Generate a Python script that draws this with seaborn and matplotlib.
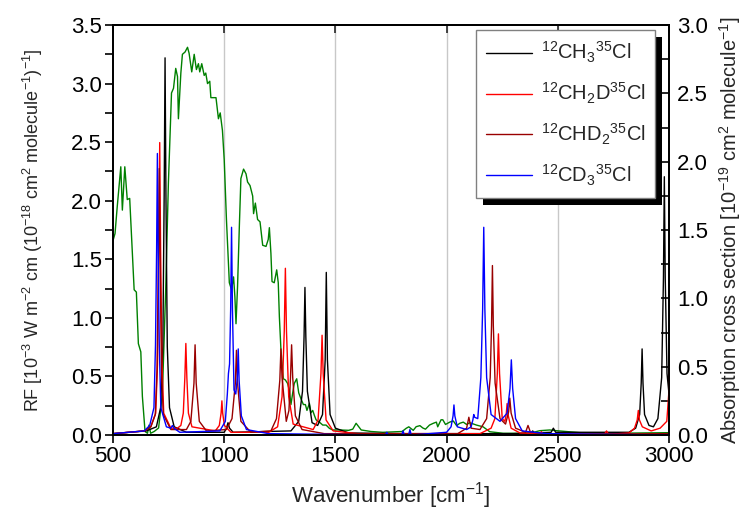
import numpy as np
import pandas as pd
import matplotlib
matplotlib.use("Agg")
import matplotlib.pyplot as plt
import seaborn as sns
from matplotlib.lines import Line2D
from matplotlib.patches import Rectangle
from matplotlib.ticker import MultipleLocator, FormatStrFormatter

# ---------------- data ----------------
# radiative forcing efficiency curve (left axis)
rf_wn = [500, 509, 519, 535, 542, 553, 564, 575, 587, 595, 605, 614, 625, 632, 644, 655,
         662, 669, 685, 705, 722, 737, 749, 763, 772, 782, 790, 794, 805, 812, 824,
         835, 842, 854, 865, 875, 884, 890, 899, 910, 917, 925, 935, 940, 950, 963, 974,
         982, 992, 1000, 1010, 1023, 1033, 1042, 1048, 1053, 1060, 1068, 1075, 1087, 1098,
         1105, 1116, 1128, 1132, 1140, 1150, 1161, 1173, 1188, 1198, 1203, 1210, 1215, 1225,
         1236, 1243, 1248, 1255, 1266, 1275, 1285, 1293, 1300, 1308, 1315, 1326, 1335, 1345,
         1356, 1365, 1372, 1383, 1390, 1398, 1405, 1413, 1428, 1443, 1458, 1473, 1488, 1518,
         1560, 1578, 1593, 1616, 1660, 1713, 1773, 1800, 1818, 1830, 1850, 1863, 1880, 1893,
         1905, 1923, 1940, 1954, 1960, 1975, 1983, 1995, 2014, 2030, 2045, 2059, 2075, 2090,
         2104, 2134, 2164, 2194, 2254, 2374, 2419, 2464, 2494, 2599, 2749, 3000]
rf_val = [1.66, 1.72, 1.95, 2.29, 1.92, 2.29, 2.01, 2.02, 1.55, 1.24, 1.22, 0.78, 0.71, 0.33, 0.03, 0.015,
          0.085, 0.015, 0.03, 0.06, 0.35, 1.25, 2.15, 2.92, 2.96, 3.13, 3.06, 2.70, 3.09, 3.25, 3.27,
          3.31, 3.26, 3.10, 3.25, 3.12, 3.17, 3.10, 3.17, 3.07, 3.09, 3.00, 3.02, 2.88, 2.88, 2.88, 2.70,
          2.75, 2.60, 2.35, 1.84, 1.30, 1.24, 1.35, 1.18, 0.95, 1.27, 1.78, 2.19, 2.27, 2.23,
          2.16, 2.13, 2.04, 1.89, 1.98, 1.84, 1.82, 1.62, 1.61, 1.67, 1.77, 1.55, 1.31, 1.30,
          1.41, 1.30, 1.01, 0.73, 0.48, 0.47, 0.44, 0.38, 0.26, 0.36, 0.44, 0.48, 0.36, 0.31,
          0.26, 0.26, 0.21, 0.27, 0.19, 0.21, 0.17, 0.13, 0.11, 0.085, 0.085, 0.057, 0.043, 0.043,
          0.04, 0.05, 0.10, 0.043, 0.03, 0.023, 0.028, 0.03, 0.057, 0.07, 0.04, 0.071, 0.08, 0.06,
          0.05, 0.085, 0.10, 0.11, 0.07, 0.13, 0.13, 0.09, 0.11, 0.12, 0.08, 0.10, 0.11, 0.09,
          0.105, 0.085, 0.07, 0.028, 0.015, 0.015, 0.037, 0.043, 0.037, 0.02, 0.015, 0.02]

# absorption cross sections (right axis)
ch3_wn = [500, 650, 695, 714, 724, 730, 734, 738, 744, 754, 775, 830, 1000, 1010, 1017, 1024, 1040,
          1300, 1335, 1352, 1359, 1363, 1367, 1374, 1395, 1420, 1442, 1454, 1459, 1464, 1476, 1500,
          1560, 1800, 2300, 2380, 2387, 2394, 2470, 2480, 2490, 2820, 2850, 2868, 2875, 2879, 2883,
          2890, 2910, 2930, 2950, 2967, 2975, 2979, 2983, 2991, 3000, 3020]
ch3_val = [0.01, 0.03, 0.06, 0.20, 0.65, 1.75, 2.76, 1.75, 0.65, 0.20, 0.06, 0.02, 0.02, 0.05, 0.09, 0.05, 0.02,
           0.03, 0.10, 0.32, 0.72, 1.08, 0.72, 0.32, 0.09, 0.07, 0.15, 0.55, 1.19, 0.55, 0.15, 0.05,
           0.015, 0.01, 0.01, 0.015, 0.03, 0.015, 0.02, 0.05, 0.02, 0.02, 0.05, 0.15, 0.38, 0.63, 0.38,
           0.15, 0.07, 0.06, 0.12, 0.42, 1.15, 1.89, 1.15, 0.45, 0.30, 1.00]

ch2d_wn = [500, 640, 670, 692, 700, 706, 710, 714, 720, 728, 760, 790, 805, 816, 823, 827.5, 832, 839,
           855, 960, 978, 986, 989.6, 993, 1001, 1030, 1200, 1240, 1260, 1270, 1275, 1280, 1290, 1310,
           1400, 1422, 1435, 1440, 1445, 1458, 1490, 1600, 2150, 2200, 2217, 2228, 2233, 2238, 2250,
           2262, 2268, 2272, 2276, 2290, 2330, 2421, 2426, 2431, 2710, 2719, 2728, 2820, 2845, 2857,
           2862, 2867, 2880, 2920, 2960, 2990, 3000, 3008]
ch2d_val = [0.01, 0.03, 0.06, 0.16, 0.52, 1.35, 2.14, 1.35, 0.52, 0.16, 0.05, 0.05, 0.07, 0.16, 0.42, 0.67, 0.42, 0.16,
            0.06, 0.03, 0.07, 0.16, 0.25, 0.16, 0.07, 0.02, 0.02, 0.06, 0.28, 0.76, 1.22, 0.76, 0.28, 0.08,
            0.04, 0.11, 0.45, 0.73, 0.45, 0.11, 0.03, 0.01, 0.01, 0.05, 0.12, 0.45, 0.74, 0.45, 0.12,
            0.10, 0.15, 0.23, 0.15, 0.05, 0.015, 0.01, 0.025, 0.01, 0.005, 0.03, 0.005, 0.015, 0.05, 0.11,
            0.18, 0.11, 0.06, 0.03, 0.05, 0.10, 0.33, 0.90]

chd2_wn = [500, 640, 670, 690, 698, 704, 708, 712, 718, 726, 760, 830, 850, 864, 869, 874, 888, 920,
           1010, 1035, 1050, 1055, 1060, 1075, 1120, 1210, 1235, 1250, 1255, 1260, 1279, 1291, 1298,
           1303, 1308, 1320, 1350, 1450, 2050, 2090, 2100, 2110, 2150, 2180, 2196, 2202, 2206, 2210,
           2218, 2240, 2265, 2279, 2284, 2290, 2310, 2355, 2366, 2377, 2450, 3000]
chd2_val = [0.01, 0.03, 0.06, 0.15, 0.48, 1.25, 1.95, 1.25, 0.48, 0.15, 0.04, 0.04, 0.10, 0.38, 0.66, 0.38, 0.10, 0.03,
            0.04, 0.12, 0.38, 0.62, 0.38, 0.10, 0.02, 0.03, 0.12, 0.40, 0.63, 0.42, 0.10, 0.18, 0.42,
            0.66, 0.42, 0.14, 0.04, 0.01, 0.01, 0.05, 0.13, 0.05, 0.04, 0.12, 0.42, 0.80, 1.24, 0.80,
            0.38, 0.12, 0.08, 0.17, 0.27, 0.16, 0.05, 0.02, 0.07, 0.02, 0.005, 0.01]

cd3_wn = [500, 640, 665, 684, 691, 696, 699.5, 703, 708, 715, 740, 760, 767, 774, 800, 980, 1005, 1014,
          1019, 1024, 1029, 1033, 1037, 1044, 1052, 1059, 1063, 1067, 1077, 1100, 1200, 1725, 1731,
          1737, 1798, 1804, 1810, 1829, 1835, 1841, 2000, 2020, 2029, 2033, 2037, 2048, 2090, 2110,
          2118, 2122, 2126, 2140, 2154, 2162, 2167, 2172, 2180, 2200, 2240, 2272, 2285, 2291, 2297,
          2310, 2340, 2450, 3000]
cd3_val = [0.01, 0.03, 0.07, 0.20, 0.66, 1.35, 2.06, 1.35, 0.66, 0.20, 0.06, 0.05, 0.07, 0.05, 0.02, 0.03, 0.10, 0.30,
           0.45, 0.52, 0.92, 1.52, 0.92, 0.33, 0.30, 0.42, 0.63, 0.40, 0.14, 0.04, 0.01, 0.0, 0.02,
           0.0, 0.0, 0.03, 0.0, 0.0, 0.04, 0.0, 0.02, 0.06, 0.14, 0.22, 0.14, 0.06, 0.04, 0.06,
           0.11, 0.15, 0.13, 0.12, 0.42, 0.92, 1.52, 0.92, 0.42, 0.15, 0.10, 0.16, 0.34, 0.55, 0.34,
           0.12, 0.03, 0.01, 0.0]

species = [r"$\mathregular{^{12}CH_3{}^{35}Cl}$",
           r"$\mathregular{^{12}CH_2D^{35}Cl}$",
           r"$\mathregular{^{12}CHD_2{}^{35}Cl}$",
           r"$\mathregular{^{12}CD_3{}^{35}Cl}$"]
colors = ["#000000", "#ff0000", "#990000", "#0000ff"]

# ---------------- build tables ----------------
rf_df = pd.DataFrame({"wn": rf_wn, "rf": rf_val})
frames = []
for name, wn, val in zip(species, [ch3_wn, ch2d_wn, chd2_wn, cd3_wn],
                         [ch3_val, ch2d_val, chd2_val, cd3_val]):
    frames.append(pd.DataFrame({"wn": wn, "xs": val, "species": name}))
xs_df = pd.concat(frames, ignore_index=True)

# ---------------- style ----------------
sns.set_theme(style="ticks")
plt.rcParams["font.family"] = ["Liberation Sans", "DejaVu Sans"]
plt.rcParams["mathtext.fontset"] = "custom"
plt.rcParams["mathtext.rm"] = "Liberation Sans"
plt.rcParams["axes.linewidth"] = 1.3

fig = plt.figure(figsize=(7.45, 5.11), dpi=100)
ax = fig.add_axes([0.1517, 0.1487, 0.7463, 0.8023])
ax2 = ax.twinx()

# grid (vertical only)
for gx in [1000, 1500, 2000, 2500]:
    ax.axvline(gx, color="#c8c8c8", lw=1.0, zorder=0)

sns.lineplot(data=rf_df, x="wn", y="rf", ax=ax, color="#008000", lw=1.0,
             estimator=None, sort=True)
sns.lineplot(data=xs_df, x="wn", y="xs", hue="species", hue_order=species,
             palette=dict(zip(species, colors)), ax=ax2, lw=1.0,
             estimator=None, sort=True, legend=False)

ax.set_xlim(500, 3000)
ax.set_ylim(0, 3.5)
ax2.set_ylim(0, 3.0)

ax.xaxis.set_major_locator(MultipleLocator(500))
ax.yaxis.set_major_locator(MultipleLocator(0.5))
ax.yaxis.set_minor_locator(MultipleLocator(0.25))
ax.yaxis.set_major_formatter(FormatStrFormatter("%.1f"))
ax2.yaxis.set_major_locator(MultipleLocator(0.5))
ax2.yaxis.set_minor_locator(MultipleLocator(0.25))
ax2.yaxis.set_major_formatter(FormatStrFormatter("%.1f"))

tick_fs = 16
ax.tick_params(axis="x", which="major", direction="out", length=6, width=1.2,
               labelsize=tick_fs, colors="black", top=False, pad=2)
ax.tick_params(axis="y", which="both", direction="out", length=6, width=1.2,
               labelsize=tick_fs, colors="black", pad=2)
ax2.tick_params(axis="y", which="both", direction="in", length=6, width=1.2,
                labelsize=tick_fs, colors="black", pad=6)

top = ax.secondary_xaxis("top")
top.set_xticks([500, 1000, 1500, 2000, 2500, 3000])
top.tick_params(axis="x", direction="in", length=6, width=1.2, labeltop=False)
top.spines["top"].set_linewidth(1.3)

for a in (ax, ax2):
    for s in a.spines.values():
        s.set_color("black")
        s.set_linewidth(1.3)

ax.set_xlabel(r"Wavenumber [cm$\mathregular{^{-1}}$]", fontsize=16, labelpad=9)
ax.set_ylabel(r"RF [10$\mathregular{^{-3}}$ W m$\mathregular{^{-2}}$ cm (10$\mathregular{^{-18}}$ cm$\mathregular{^{2}}$ molecule$\mathregular{^{-1}}$)$\mathregular{^{-1}}$]",
              fontsize=13, labelpad=19)
ax2.set_ylabel(r"Absorption cross section [10$\mathregular{^{-19}}$ cm$\mathregular{^{2}}$ molecule$\mathregular{^{-1}}$]",
               fontsize=14.5, labelpad=6)

handles = [Line2D([], [], color=c, lw=1.0) for c in colors]
leg = ax2.legend(handles, species, loc="upper left", bbox_to_anchor=(0.653, 0.988),
                 frameon=True, fancybox=False, framealpha=1, edgecolor="#808080",
                 fontsize=14.5, handlelength=2.3, handletextpad=0.4, labelspacing=0.78,
                 borderpad=0.5, borderaxespad=0.0)
leg.get_frame().set_linewidth(1.0)

# solid black drop shadow behind legend
fig.canvas.draw()
bb = leg.get_window_extent()
inv = ax2.transAxes.inverted()
(x0, y0), (x1, y1) = inv.transform([[bb.x0 + 7, bb.y0 - 7], [bb.x1 + 7, bb.y1 - 7]])
ax2.add_patch(Rectangle((x0, y0), x1 - x0, y1 - y0, transform=ax2.transAxes,
                        facecolor="black", edgecolor="none", zorder=4.5, clip_on=False))

fig.savefig("out.png", dpi=100)
